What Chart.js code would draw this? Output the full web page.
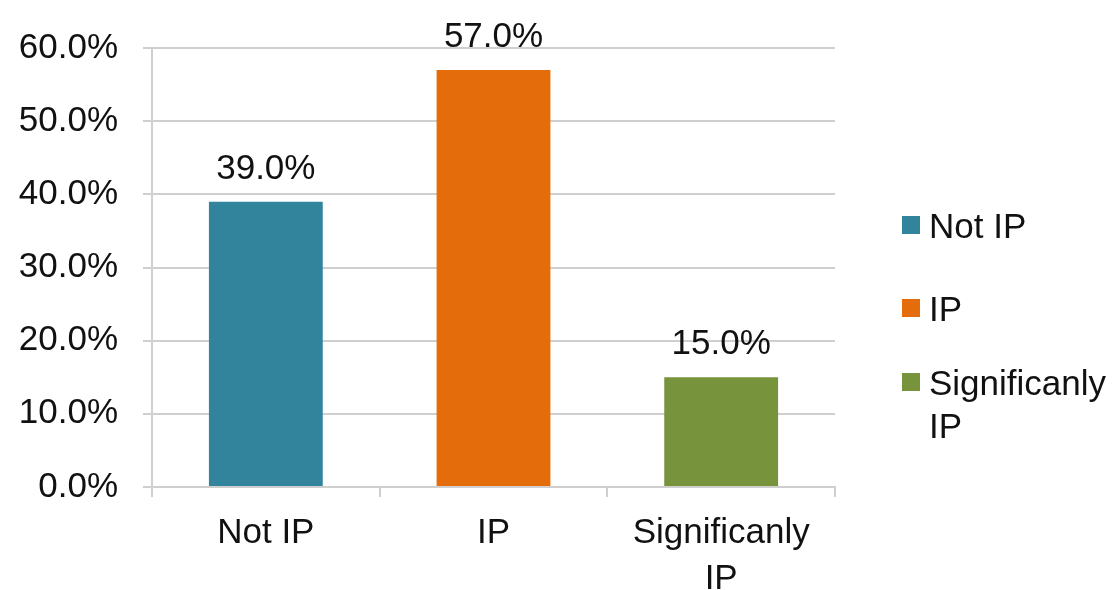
<!DOCTYPE html>
<html>
<head>
<meta charset="utf-8">
<title>IP distribution</title>
<script src="https://cdn.jsdelivr.net/npm/chart.js@4.4.1/dist/chart.umd.min.js"></script>
<style>
  html, body { margin: 0; padding: 0; background: #ffffff; }
  #wrap { width: 1120px; height: 590px; position: relative; }
</style>
</head>
<body>
<div id="wrap"><canvas id="chart" width="1120" height="590"></canvas></div>
<script>
// Categories (multi-line labels as arrays)
const categories = [['Not IP'], ['IP'], ['Significanly', 'IP']];
// Share of cases in each category, in percent
const shareValues = [39.0, 57.0, 15.0];
// Y axis tick values
const yTicks = [0, 10, 20, 30, 40, 50, 60];
// Bar colours per category
const barColors = ['#31849B', '#E46C0A', '#77933C'];

const FONT = '"Liberation Sans", Arial, sans-serif';
const TEXT = '#111111';
const GRID = '#cfcfcf';

const fmtPct = v => Number(v).toFixed(1) + '%';

// Value labels above each bar
const valueLabels = {
  id: 'valueLabels',
  afterDatasetsDraw(chart) {
    const ctx = chart.ctx;
    const meta = chart.getDatasetMeta(0);
    const data = chart.data.datasets[0].data;
    ctx.save();
    ctx.font = '35px ' + FONT;
    ctx.fillStyle = TEXT;
    ctx.textAlign = 'center';
    ctx.textBaseline = 'alphabetic';
    meta.data.forEach((bar, i) => {
      ctx.fillText(fmtPct(data[i]), bar.x, bar.y - 23);
    });
    ctx.restore();
  }
};

// Legend on the right, one entry per category with wrapped text
const sideLegend = {
  id: 'sideLegend',
  afterDraw(chart, args, opts) {
    const ctx = chart.ctx;
    const labels = chart.data.labels;
    const colors = chart.data.datasets[0].backgroundColor;
    ctx.save();
    ctx.font = '35px ' + FONT;
    ctx.textAlign = 'left';
    ctx.textBaseline = 'alphabetic';
    labels.forEach((lab, i) => {
      const top = opts.rows[i];
      ctx.fillStyle = colors[i];
      ctx.fillRect(opts.x, top + 3, opts.box, opts.box);
      ctx.fillStyle = TEXT;
      const lines = Array.isArray(lab) ? lab : [lab];
      lines.forEach((ln, j) => {
        ctx.fillText(ln, opts.x + opts.box + 9, top + 25 + j * opts.lineHeight);
      });
    });
    ctx.restore();
  }
};

new Chart(document.getElementById('chart'), {
  type: 'bar',
  data: {
    labels: categories,
    datasets: [{
      data: shareValues,
      backgroundColor: barColors,
      borderWidth: 0,
      categoryPercentage: 1.0,
      barPercentage: 0.5
    }]
  },
  options: {
    responsive: false,
    animation: false,
    devicePixelRatio: 1,
    layout: { padding: { left: 0, right: 285, top: 48, bottom: 0 } },
    plugins: {
      legend: { display: false },
      tooltip: { enabled: false },
      sideLegend: { x: 902, box: 18, rows: [213, 296, 370], lineHeight: 43 }
    },
    scales: {
      x: {
        offset: true,
        grid: {
          offset: true,
          drawOnChartArea: false,
          drawTicks: true,
          tickLength: 10,
          color: GRID,
          lineWidth: 2
        },
        border: { display: true, color: GRID, width: 2 },
        ticks: {
          color: TEXT,
          font: { family: FONT, size: 35, lineHeight: 1.3 },
          padding: 14,
          maxRotation: 0,
          autoSkip: false
        },
        afterFit(scale) { scale.height = 590 - 487; }
      },
      y: {
        min: yTicks[0],
        max: yTicks[yTicks.length - 1],
        afterBuildTicks(scale) { scale.ticks = yTicks.map(v => ({ value: v })); },
        grid: {
          color: GRID,
          lineWidth: 2,
          tickLength: 9,
          drawTicks: true
        },
        border: { display: true, color: GRID, width: 2 },
        ticks: {
          color: TEXT,
          font: { family: FONT, size: 35 },
          padding: 25,
          callback: v => fmtPct(v)
        },
        afterFit(scale) { scale.width = 152; }
      }
    }
  },
  plugins: [valueLabels, sideLegend]
});
</script>
</body>
</html>
